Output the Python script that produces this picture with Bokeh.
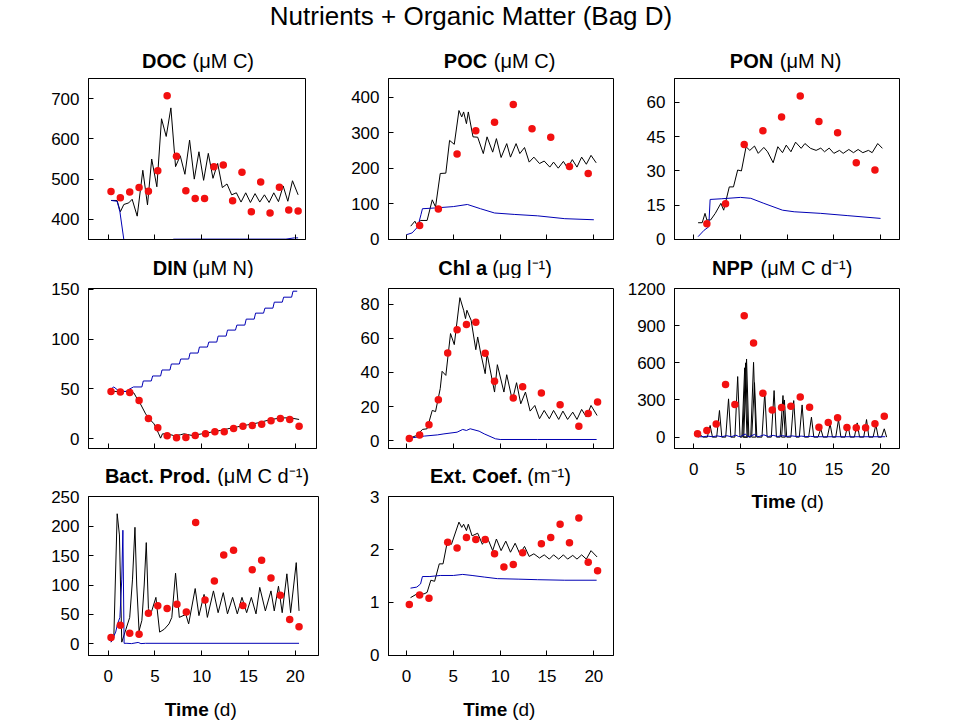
from bokeh.plotting import figure
from bokeh.layouts import column, row
from bokeh.models import FixedTicker, Label, Range1d
from bokeh.embed import file_html
from bokeh.resources import INLINE

# ---------------- data ----------------
x_ticks = [0, 5, 10, 15, 20]

# DOC (uM C)
doc_obs_t = [0.3, 1.3, 2.3, 3.3, 4.3, 5.3, 6.3, 7.3, 8.3, 9.3, 10.3, 11.3, 12.3, 13.3, 14.3, 15.3, 16.3, 17.3, 18.3, 19.3, 20.3]
doc_obs = [469, 454, 468, 479, 470, 521, 707, 557, 471, 452, 452, 531, 535, 446, 517, 419, 493, 416, 480, 423, 421]
doc_mod_t = [0.3, 0.95, 1.3, 1.67, 2.2, 2.56, 3.1, 3.7, 4.2, 4.65, 5.2, 5.7, 6.2, 6.7, 7.2, 7.7, 8.2, 8.7, 9.2, 9.7, 10.2, 10.7, 11.2, 11.7, 12.2, 12.7, 13.2, 13.7, 14.2, 14.7, 15.2, 15.7, 16.2, 16.7, 17.2, 17.7, 18.2, 18.7, 19.2, 19.7, 20.3]
doc_mod = [447, 447, 419, 437, 441, 450, 408, 522, 436, 550, 481, 650, 606, 677, 531, 558, 512, 597, 500, 568, 497, 564, 502, 539, 479, 488, 461, 466, 443, 466, 442, 464, 443, 461, 442, 466, 444, 483, 445, 496, 461]
doc_ctl_t = [0.32, 0.95, 1.25, 1.67, 2.2, 4.0, 6.0, 7.0, 10.0, 14.0, 19.0, 19.9, 20.3]
doc_ctl = [447, 445, 419, 350, 320, 320, 335, 350.8, 351, 351, 351, 354, 354]
doc_yticks = [400, 500, 600, 700]

# POC (uM C)
poc_obs_t = [1.4, 3.4, 5.4, 7.4, 9.4, 11.4, 13.4, 15.4, 17.4, 19.4]
poc_obs = [39, 85, 240, 305, 329, 379, 311, 287, 205, 185]
poc_mod_t = [0.45, 0.9, 1.1, 1.5, 2.2, 2.75, 3.1, 3.6, 4.2, 4.6, 5.1, 5.6, 5.9, 6.1, 6.4, 6.6, 7.1, 7.6, 8.2, 8.6, 9.2, 9.6, 10.1, 10.7, 11.1, 11.7, 12.1, 12.6, 13.1, 13.6, 14.2, 14.7, 15.3, 15.7, 16.2, 16.75, 17.2, 17.7, 18.2, 18.7, 19.2, 19.7, 20.25]
poc_mod = [37, 51, 40, 53, 53, 111, 91, 185, 186, 278, 267, 362, 344, 358, 325, 358, 288, 287, 241, 288, 245, 283, 230, 269, 231, 269, 241, 258, 217, 231, 213, 220, 203, 217, 200, 219, 200, 224, 203, 231, 211, 236, 215]
poc_ctl_t = [0.0, 0.6, 1.2, 1.55, 1.7, 3.0, 5.0, 6.5, 7.9, 9.4, 11.5, 14.0, 16.9, 20.0]
poc_ctl = [13, 18, 35, 70, 86, 88, 92, 98, 86, 74, 70, 66, 58, 55]
poc_yticks = [0, 100, 200, 300, 400]

# PON (uM N)
pon_obs_t = [1.4, 3.4, 5.4, 7.4, 9.4, 11.4, 13.4, 15.4, 17.4, 19.4]
pon_obs = [6.9, 15.6, 41.6, 47.6, 53.6, 62.8, 51.7, 46.7, 33.6, 30.4]
pon_mod_t = [0.46, 0.9, 1.2, 1.4, 1.8, 2.3, 2.9, 3.2, 3.8, 4.25, 4.7, 5.1, 5.6, 6.0, 6.5, 6.9, 7.5, 7.9, 8.5, 9.0, 9.5, 9.9, 10.4, 10.9, 11.5, 11.9, 12.5, 13.1, 13.6, 14.0, 14.5, 15.0, 15.6, 16.0, 16.6, 17.1, 17.6, 18.1, 18.7, 19.1, 19.7, 20.2]
pon_mod = [7.3, 7.3, 11.4, 8.5, 8.5, 11.4, 15.8, 12.8, 23, 23, 30.4, 30, 40.6, 39, 40.9, 37.7, 40.3, 38.4, 33.6, 40.6, 38, 41.3, 38.4, 42.6, 39.9, 42, 39.9, 39, 40, 38.4, 40, 37.7, 39, 37.7, 39.4, 38, 39.4, 38, 39, 38, 42, 39.9]
pon_ctl_t = [0.46, 1.1, 1.6, 1.75, 3.0, 5.0, 6.1, 7.5, 9.5, 10.75, 13.6, 16.5, 20.0]
pon_ctl = [1.2, 4, 5.5, 17.5, 17.8, 18.4, 18, 15.8, 12.8, 12.1, 11.4, 10.4, 9.2]
pon_yticks = [0, 15, 30, 45, 60]

# DIN (uM N)
din_obs_t = [0.3, 1.3, 2.3, 3.3, 4.3, 5.3, 6.3, 7.3, 8.3, 9.3, 10.4, 11.4, 12.4, 13.4, 14.4, 15.4, 16.4, 17.4, 18.4, 19.4, 20.4]
din_obs = [47.5, 46.9, 46.5, 38.5, 20.4, 11, 3, 1, 1.3, 3.3, 5, 7, 7, 10.4, 12.7, 13.4, 14.7, 18, 20.4, 19.4, 12.7]
din_mod_t = [0.3, 2.4, 2.75, 3.1, 3.5, 4.0, 4.4, 4.9, 5.4, 5.6, 5.8, 6.3, 7.0, 7.7, 8.1, 9.0, 10.0, 11.0, 12.0, 12.75, 13.8, 14.9, 16.0, 17.4, 18.5, 19.5, 20.4]
din_mod = [47.5, 47.5, 45.9, 40, 34, 25, 20, 15, 5, 0.7, 5, 5, 3.3, 4, 5, 3.3, 5, 6.7, 8.4, 10, 12, 14, 16, 19.4, 21, 21, 19.4]
din_ctl_t = [0.3, 0.6, 1.2, 1.9, 2.3, 2.7, 3.6, 3.75, 4.6, 4.75, 5.6, 5.75, 6.6, 6.75, 7.6, 7.75, 8.6, 8.75, 9.6, 9.75, 10.6, 10.75, 11.6, 11.75, 12.6, 12.75, 13.6, 13.75, 14.6, 14.75, 15.6, 15.75, 16.6, 16.75, 17.6, 17.75, 18.6, 18.75, 19.6, 19.75, 20.2]
din_ctl = [50, 52, 47.5, 47.5, 50, 52, 52, 58, 58, 63, 63, 69, 69, 75, 75, 80, 80, 86, 86, 92, 92, 97, 97, 103, 103, 109, 109, 114, 114, 120, 120, 126, 126, 131, 131, 137, 137, 142, 142, 148, 148]
din_yticks = [0, 50, 100, 150]

# Chl a (ug/l)
chl_obs_t = [0.3, 1.4, 2.4, 3.4, 4.4, 5.4, 6.4, 7.4, 8.4, 9.4, 11.4, 12.4, 14.4, 16.4, 18.4, 19.4, 20.4]
chl_obs = [1.2, 3.3, 9.2, 24, 51.5, 65.2, 68.2, 69.5, 51.3, 34.8, 25, 31.6, 27.9, 21, 8.4, 15.9, 22.6]
chl_mod_t = [0.36, 1.1, 1.7, 2.2, 2.75, 3.1, 3.6, 3.8, 4.2, 4.7, 5.1, 5.7, 6.1, 6.3, 6.45, 6.9, 7.4, 7.6, 7.9, 8.4, 8.6, 9.4, 9.7, 10.4, 10.7, 11.3, 11.75, 12.2, 12.7, 13.2, 13.7, 14.2, 14.7, 15.25, 15.7, 16.25, 16.7, 17.2, 17.75, 18.2, 18.7, 19.2, 19.7, 20.35]
chl_mod = [1.4, 3, 6.5, 6.9, 17.7, 17, 30.5, 40.7, 38.3, 62.9, 56.4, 84, 76.6, 71.7, 76.6, 70.7, 53.4, 60.9, 52, 39.3, 51, 28.5, 44.6, 28.5, 38.7, 23.6, 34, 21.6, 28.5, 17.3, 20.6, 12.8, 17.7, 12.8, 17.7, 12.4, 17.3, 12.4, 16.7, 12.4, 18.3, 13.8, 20.6, 14.7]
chl_ctl_t = [0.36, 1.9, 3.3, 4.0, 5.4, 6.0, 6.4, 6.8, 7.75, 8.3, 9.5, 10.0, 14.0, 20.3]
chl_ctl = [1.4, 2.6, 3.3, 3.9, 4.9, 6.5, 5.9, 6.9, 5.5, 3.9, 1.0, 0.6, 0.6, 0.6]
chl_yticks = [0, 20, 40, 60, 80]

# NPP (uM C/d)
npp_obs_t = [0.4, 1.4, 2.4, 3.4, 4.4, 5.4, 6.4, 7.4, 8.4, 9.4, 10.4, 11.4, 12.4, 13.4, 14.4, 15.4, 16.4, 17.4, 18.4, 19.4, 20.4]
npp_obs = [27, 54, 105, 424, 263, 980, 760, 354, 220, 239, 250, 325, 242, 80, 118, 156, 78, 75, 75, 107, 169]
npp_peak_t = [0.75, 1.75, 2.75, 3.72, 4.7, 5.45, 5.55, 5.65, 6.4, 6.5, 7.6, 8.6, 9.55, 9.7, 10.7, 11.6, 12.6, 13.6, 14.6, 15.5, 16.5, 17.5, 18.5, 19.5, 20.4]
npp_peak = [15, 94, 215, 309, 489, 560, 600, 631, 604, 440, 362, 376, 336, 300, 295, 260, 161, 67, 107, 142, 102, 115, 142, 99, 67]
npp_ctl_t = [0.4, 1.0, 1.5, 2.0, 2.5, 3.0, 3.5, 4.0, 4.5, 4.8, 5.0, 5.5, 5.8, 6.0, 6.5, 6.8, 7.0, 7.5, 8.0, 8.5, 9.0, 9.5, 10.0, 10.5, 11.0, 11.5, 12.0, 12.5, 13.0, 14.0, 15.0, 16.0, 17.0, 18.0, 19.0, 20.0, 20.5]
npp_ctl = [3, 3, 8, 3, 10, 3, 12, 3, 16, 5, 5, 25, 5, 5, 22, 5, 5, 18, 5, 14, 5, 12, 5, 10, 5, 8, 4, 6, 3, 3, 3, 3, 3, 3, 3, 3, 3]
npp_yticks = [0, 300, 600, 900, 1200]

# Bacterial production (uM C/d)
bp_obs_t = [0.3, 1.3, 2.3, 3.3, 4.3, 5.3, 6.3, 7.35, 8.35, 9.35, 10.35, 11.35, 12.35, 13.4, 14.4, 15.4, 16.4, 17.4, 18.4, 19.4, 20.4]
bp_obs = [10.7, 31.5, 18, 16.3, 52, 64.6, 60, 67.4, 54, 206, 74.7, 107, 151, 159, 65, 126, 142, 112, 82.6, 41.6, 29.2]
bp_mod_t = [0.3, 0.6, 0.96, 1.2, 1.45, 1.9, 2.3, 2.6, 2.86, 3.05, 3.3, 3.6, 3.85, 4.07, 4.3, 4.5, 5.1, 5.5, 6.0, 6.5, 6.8, 7.2, 7.6, 8.3, 8.6, 9.3, 9.7, 10.25, 10.6, 11.25, 11.75, 12.3, 12.75, 13.3, 13.8, 14.3, 14.8, 15.3, 15.8, 16.2, 16.8, 17.4, 17.75, 18.2, 18.6, 19.1, 19.5, 20.1, 20.4]
bp_mod = [3, 11, 221, 185, 3, 25, 45, 110, 198, 100, 22, 40, 100, 172, 60, 48, 79, 20, 25, 34, 45, 120, 45, 50, 34, 94, 48, 84, 45, 90, 53, 87, 51, 79, 51, 79, 53, 79, 51, 96, 56, 90, 56, 98, 53, 119, 53, 138, 56]
bp_ctl_t = [0.3, 0.8, 1.0, 1.25, 1.45, 1.57, 1.7, 2.0, 2.5, 3.2, 3.5, 4.0, 20.4]
bp_ctl = [3, 20, 34, 45, 110, 193, 1, 1, 0.5, 2.5, 0.5, 1, 1]
bp_yticks = [0, 50, 100, 150, 200, 250]

# Extinction coefficient (1/m)
ext_obs_t = [0.3, 1.4, 2.4, 4.4, 5.4, 6.4, 7.4, 8.4, 9.4, 10.4, 11.4, 12.4, 14.4, 15.4, 16.4, 17.4, 18.4, 19.4, 20.4]
ext_obs = [0.96, 1.14, 1.08, 2.14, 2.03, 2.23, 2.19, 2.19, 1.92, 1.67, 1.72, 1.94, 2.11, 2.23, 2.48, 2.13, 2.6, 1.76, 1.6]
ext_mod_t = [0.43, 1.3, 1.86, 2.2, 2.6, 3.0, 3.5, 3.9, 4.35, 4.8, 5.6, 5.9, 6.1, 6.4, 6.6, 7.0, 7.6, 8.1, 8.6, 9.2, 9.6, 10.1, 10.6, 11.1, 11.6, 12.1, 12.6, 13.1, 13.6, 14.2, 14.7, 15.25, 15.7, 16.25, 16.75, 17.2, 17.75, 18.2, 18.7, 19.2, 19.7, 20.35]
ext_mod = [1.09, 1.18, 1.16, 1.19, 1.42, 1.4, 1.73, 1.73, 2.14, 2.1, 2.52, 2.42, 2.48, 2.36, 2.48, 2.26, 2.31, 2.1, 2.24, 1.98, 2.2, 1.98, 2.16, 1.95, 2.12, 1.92, 2.06, 1.87, 1.92, 1.84, 1.9, 1.82, 1.9, 1.82, 1.9, 1.82, 1.89, 1.82, 1.9, 1.82, 1.98, 1.86]
ext_ctl_t = [0.43, 1.1, 1.5, 1.7, 2.5, 3.6, 5.0, 6.0, 7.0, 8.3, 9.7, 12.0, 14.0, 16.9, 20.3]
ext_ctl = [1.27, 1.29, 1.35, 1.49, 1.49, 1.51, 1.51, 1.53, 1.51, 1.48, 1.45, 1.44, 1.43, 1.42, 1.42]
ext_yticks = [0, 1, 2, 3]

# ---------------- styling ----------------
FONT = "Liberation Sans"
RED = "#f21010"
BLUE = "#0000b4"
BLACK = "black"
TOTAL_W = 958
BASE_SHIFT = 0.31  # em: compensates the label baseline placement


def make_panel(fw, fh, bl, br, bt, bb, xr, yr, yticks, xlabels):
    p = figure(title=None, frame_width=fw, frame_height=fh,
               min_border_left=bl, min_border_right=br,
               min_border_top=bt, min_border_bottom=bb,
               x_range=Range1d(*xr), y_range=Range1d(*yr),
               output_backend="svg", toolbar_location=None, tools="")
    p.grid.visible = False
    p.background_fill_color = "white"
    p.border_fill_color = "white"
    p.outline_line_color = BLACK
    p.outline_line_alpha = 1.0
    p.outline_line_width = 1
    for ax in (p.xaxis[0], p.yaxis[0]):
        ax.axis_line_color = BLACK
        ax.major_tick_line_color = BLACK
        ax.major_tick_in = 5
        ax.major_tick_out = 0
        ax.minor_tick_line_color = None
        ax.major_label_text_font = FONT
        ax.major_label_text_font_size = "17px"
        ax.major_label_text_color = BLACK
    p.xaxis.ticker = FixedTicker(ticks=x_ticks)
    p.yaxis.ticker = FixedTicker(ticks=yticks)
    p.yaxis.major_label_standoff = 9
    if xlabels:
        p.xaxis.major_label_standoff = 14
    else:
        p.xaxis.major_label_standoff = 0
        p.xaxis.major_label_text_color = None
    return p


def strip(x0, x1, y0, y1, left=0):
    """Text-only strip; its frame starts `left` px into the column and its
    data coordinates are page pixels."""
    s = figure(title=None, frame_width=x1 - x0 - left, frame_height=y1 - y0,
               min_border_left=left, min_border_right=0,
               min_border_top=0, min_border_bottom=0,
               x_range=Range1d(x0 + left, x1), y_range=Range1d(y1, y0),
               x_axis_location=None, y_axis_location=None,
               output_backend="svg", toolbar_location=None, tools="")
    s.grid.visible = False
    s.outline_line_color = None
    s.background_fill_color = "white"
    s.border_fill_color = "white"
    return s


def add_text(s, px, py, text, bold, size, align):
    s.add_layout(Label(x=px, y=py - BASE_SHIFT * size, text=text, text_font=FONT,
                       text_font_size=f"{size}px",
                       text_font_style="bold" if bold else "normal",
                       text_align=align, text_baseline="alphabetic",
                       text_color=BLACK))


def two_part(s, py, bold, rest, xb, xrp, size):
    add_text(s, xb, py, bold, True, size, "right")
    add_text(s, xrp, py, rest, False, size, "left")


def draw(p, mt, mv, ct, cv, ot, ov):
    p.line(mt, mv, line_color=BLACK, line_width=1)
    p.line(ct, cv, line_color=BLUE, line_width=1)
    p.scatter(ot, ov, size=7.5, fill_color=RED, line_color=None)


def spikes(tp, vp, left, right):
    ts, vs = [], []
    for t, v in zip(tp, vp):
        ts += [t - left, t, t + right]
        vs += [0, v, 0]
    return ts, vs


MU = "\u03bc"
SUP = "\u207b\u00b9"

# vertical plan (page px): title 0-48 | strip 48-72 | row1 72-253 (frame 78-239)
# | strip 253-278 | row2 278-462 (frame 288-448) | strip 462-486
# | row3 486-693 (frame 496-655) | strip 693-720
# ---------- column 1 (page x 0..330) ----------
c1 = (0, 330)
L1 = 88
s_doc = strip(*c1, 48, 72, L1)
two_part(s_doc, 66.7, "DOC", "(" + MU + "M C)", 186, 192, 20)
doc = make_panel(217, 161, L1, 25, 6, 14, (-2.106, 21.09), (350, 750), doc_yticks, False)
draw(doc, doc_mod_t, doc_mod, doc_ctl_t, doc_ctl, doc_obs_t, doc_obs)

s_din = strip(*c1, 253, 278, L1)
two_part(s_din, 274, "DIN", "(" + MU + "M N)", 186.7, 191.7, 20)
din = make_panel(228, 160, L1, 14, 10, 14, (-2.106, 22.26), (-9.7, 150.7), din_yticks, False)
draw(din, din_mod_t, din_mod, din_ctl_t, din_ctl, din_obs_t, din_obs)

s_bp = strip(*c1, 462, 486, L1)
two_part(s_bp, 481.5, "Bact. Prod.", "(" + MU + "M C d" + SUP + ")", 210, 216.7, 20)
bp = make_panel(230, 159, L1, 12, 10, 38, (-2.106, 22.48), (-19.7, 250.3), bp_yticks, True)
draw(bp, bp_mod_t, bp_mod, bp_ctl_t, bp_ctl, bp_obs_t, bp_obs)

s_t1 = strip(*c1, 693, 720, L1)
two_part(s_t1, 715, "Time", "(d)", 208.3, 213, 19)

# ---------- column 2 (page x 330..620) ----------
c2 = (330, 620)
L2 = 58
xr2 = (-1.922, 22.1)
s_poc = strip(*c2, 48, 72, L2)
two_part(s_poc, 66.7, "POC", "(" + MU + "M C)", 486.7, 493.3, 20)
poc = make_panel(225, 161, L2, 7, 6, 14, xr2, (-0.5, 452), poc_yticks, False)
draw(poc, poc_mod_t, poc_mod, poc_ctl_t, poc_ctl, poc_obs_t, poc_obs)

s_chl = strip(*c2, 253, 278, L2)
two_part(s_chl, 274, "Chl a", "(" + MU + "g l" + SUP + ")", 486.7, 491.7, 20)
chl = make_panel(225, 160, L2, 7, 10, 14, xr2, (-4.7, 89.4), chl_yticks, False)
draw(chl, chl_mod_t, chl_mod, chl_ctl_t, chl_ctl, chl_obs_t, chl_obs)

s_ext = strip(*c2, 462, 486, L2)
two_part(s_ext, 481.5, "Ext. Coef.", "(m" + SUP + ")", 521.7, 526.7, 20)
ext = make_panel(225, 159, L2, 7, 10, 38, xr2, (-0.005, 3.005), ext_yticks, True)
draw(ext, ext_mod_t, ext_mod, ext_ctl_t, ext_ctl, ext_obs_t, ext_obs)

s_t2 = strip(*c2, 693, 720, L2)
two_part(s_t2, 715, "Time", "(d)", 506.7, 511.7, 19)

# ---------- column 3 (page x 620..958) ----------
c3 = (620, TOTAL_W)
L3 = 54
xr3 = (-2.067, 22.03)
s_pon = strip(*c3, 48, 72, L3)
two_part(s_pon, 66.7, "PON", "(" + MU + "M N)", 772.7, 779.3, 20)
pon = make_panel(225, 161, L3, 59, 6, 14, xr3, (-0.05, 70.5), pon_yticks, False)
draw(pon, pon_mod_t, pon_mod, pon_ctl_t, pon_ctl, pon_obs_t, pon_obs)

s_npp = strip(*c3, 253, 278, L3)
two_part(s_npp, 274, "NPP", "(" + MU + "M C d" + SUP + ")", 752.7, 760, 20)
npp = make_panel(225, 160, L3, 59, 10, 37, xr3, (-92, 1200.5), npp_yticks, True)
npp_mt, npp_mv = spikes(npp_peak_t, npp_peak, 0.3, 0.25)
draw(npp, npp_mt, npp_mv, npp_ctl_t, npp_ctl, npp_obs_t, npp_obs)

s_t3 = strip(*c3, 485, 512, L3)
two_part(s_t3, 506.7, "Time", "(d)", 795, 800, 19)

# ---------- main title ----------
tfig = strip(0, TOTAL_W, 0, 48)
add_text(tfig, 470.5, 24, "Nutrients + Organic Matter (Bag D)", False, 26, "center")

layout = column(
    tfig,
    row(column(s_doc, doc, s_din, din, s_bp, bp, s_t1, spacing=0),
        column(s_poc, poc, s_chl, chl, s_ext, ext, s_t2, spacing=0),
        column(s_pon, pon, s_npp, npp, s_t3, spacing=0), spacing=0),
    spacing=0)

open("out.html", "w").write(file_html(layout, INLINE))
